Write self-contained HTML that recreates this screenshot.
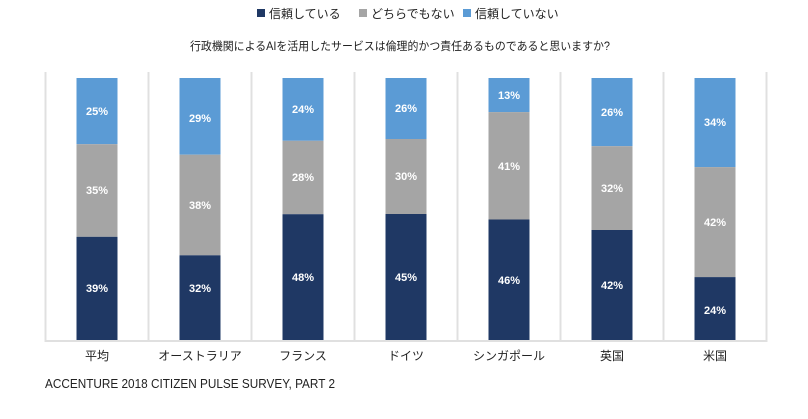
<!DOCTYPE html>
<html><head><meta charset="utf-8"><style>
html,body{margin:0;padding:0;background:#fff;}
svg{display:block;font-family:"Liberation Sans","Noto Sans CJK JP",sans-serif;}
.v{fill:#fff;font-weight:bold;font-size:11px;text-anchor:middle;}
.c{fill:#222;font-size:12px;text-anchor:middle;}
</style></head><body>
<svg width="808" height="419" viewBox="0 0 808 419">
<rect x="257" y="9" width="8" height="8" fill="#1f3864"/>
<text x="269" y="18" font-size="12" fill="#222">信頼している</text>
<rect x="359" y="9" width="8" height="8" fill="#a5a5a5"/>
<text x="371" y="18" font-size="12" fill="#222">どちらでもない</text>
<rect x="463" y="9" width="8" height="8" fill="#5b9bd5"/>
<text x="475" y="18" font-size="12" fill="#222">信頼していない</text>
<text x="400" y="50" font-size="11.5" fill="#222" text-anchor="middle" textLength="420" lengthAdjust="spacingAndGlyphs">行政機関によるAIを活用したサービスは倫理的かつ責任あるものであると思いますか?</text>
<g stroke="#e0e0e0" stroke-width="2">
<line x1="45.5" y1="72" x2="45.5" y2="341"/><line x1="148.5" y1="72" x2="148.5" y2="341"/>
<line x1="251.5" y1="72" x2="251.5" y2="341"/><line x1="354.5" y1="72" x2="354.5" y2="341"/>
<line x1="457.5" y1="72" x2="457.5" y2="341"/><line x1="560.5" y1="72" x2="560.5" y2="341"/>
<line x1="663.5" y1="72" x2="663.5" y2="341"/><line x1="766.5" y1="72" x2="766.5" y2="341"/>
<line x1="44.5" y1="341" x2="767.5" y2="341"/>
</g>
<g>
<rect x="76.5" y="78" width="41" height="66.2" fill="#5b9bd5"/><rect x="76.5" y="144.2" width="41" height="92.6" fill="#a5a5a5"/><rect x="76.5" y="236.8" width="41" height="103.2" fill="#1f3864"/>
<rect x="179.5" y="78" width="41" height="76.7" fill="#5b9bd5"/><rect x="179.5" y="154.7" width="41" height="100.6" fill="#a5a5a5"/><rect x="179.5" y="255.3" width="41" height="84.7" fill="#1f3864"/>
<rect x="282.5" y="78" width="41" height="62.8" fill="#5b9bd5"/><rect x="282.5" y="140.8" width="41" height="73.4" fill="#a5a5a5"/><rect x="282.5" y="214.2" width="41" height="125.8" fill="#1f3864"/>
<rect x="385.5" y="78" width="41" height="61" fill="#5b9bd5"/><rect x="385.5" y="139" width="41" height="75" fill="#a5a5a5"/><rect x="385.5" y="214" width="41" height="126" fill="#1f3864"/>
<rect x="488.5" y="78" width="41" height="34.1" fill="#5b9bd5"/><rect x="488.5" y="112.1" width="41" height="107.4" fill="#a5a5a5"/><rect x="488.5" y="219.5" width="41" height="120.5" fill="#1f3864"/>
<rect x="591.5" y="78" width="41" height="68.2" fill="#5b9bd5"/><rect x="591.5" y="146.2" width="41" height="83.8" fill="#a5a5a5"/><rect x="591.5" y="230" width="41" height="110" fill="#1f3864"/>
<rect x="694.5" y="78" width="41" height="89.1" fill="#5b9bd5"/><rect x="694.5" y="167.1" width="41" height="110" fill="#a5a5a5"/><rect x="694.5" y="277.1" width="41" height="62.9" fill="#1f3864"/>
</g>
<g class="v">
<text x="97" y="115">25%</text><text x="97" y="194">35%</text><text x="97" y="292">39%</text>
<text x="200" y="122">29%</text><text x="200" y="209">38%</text><text x="200" y="292">32%</text>
<text x="303" y="113">24%</text><text x="303" y="181">28%</text><text x="303" y="281">48%</text>
<text x="406" y="112">26%</text><text x="406" y="180">30%</text><text x="406" y="281">45%</text>
<text x="509" y="99">13%</text><text x="509" y="170">41%</text><text x="509" y="284">46%</text>
<text x="612" y="116">26%</text><text x="612" y="192">32%</text><text x="612" y="289">42%</text>
<text x="715" y="126">34%</text><text x="715" y="226">42%</text><text x="715" y="314">24%</text>
</g>
<g class="c">
<text x="97" y="360">平均</text><text x="200" y="360">オーストラリア</text><text x="303" y="360">フランス</text>
<text x="406" y="360">ドイツ</text><text x="509" y="360">シンガポール</text><text x="612" y="360">英国</text><text x="715" y="360">米国</text>
</g>
<text x="45" y="388" font-size="12.5" fill="#222" textLength="290" lengthAdjust="spacingAndGlyphs">ACCENTURE 2018 CITIZEN PULSE SURVEY, PART 2</text>
</svg>
</body></html>
